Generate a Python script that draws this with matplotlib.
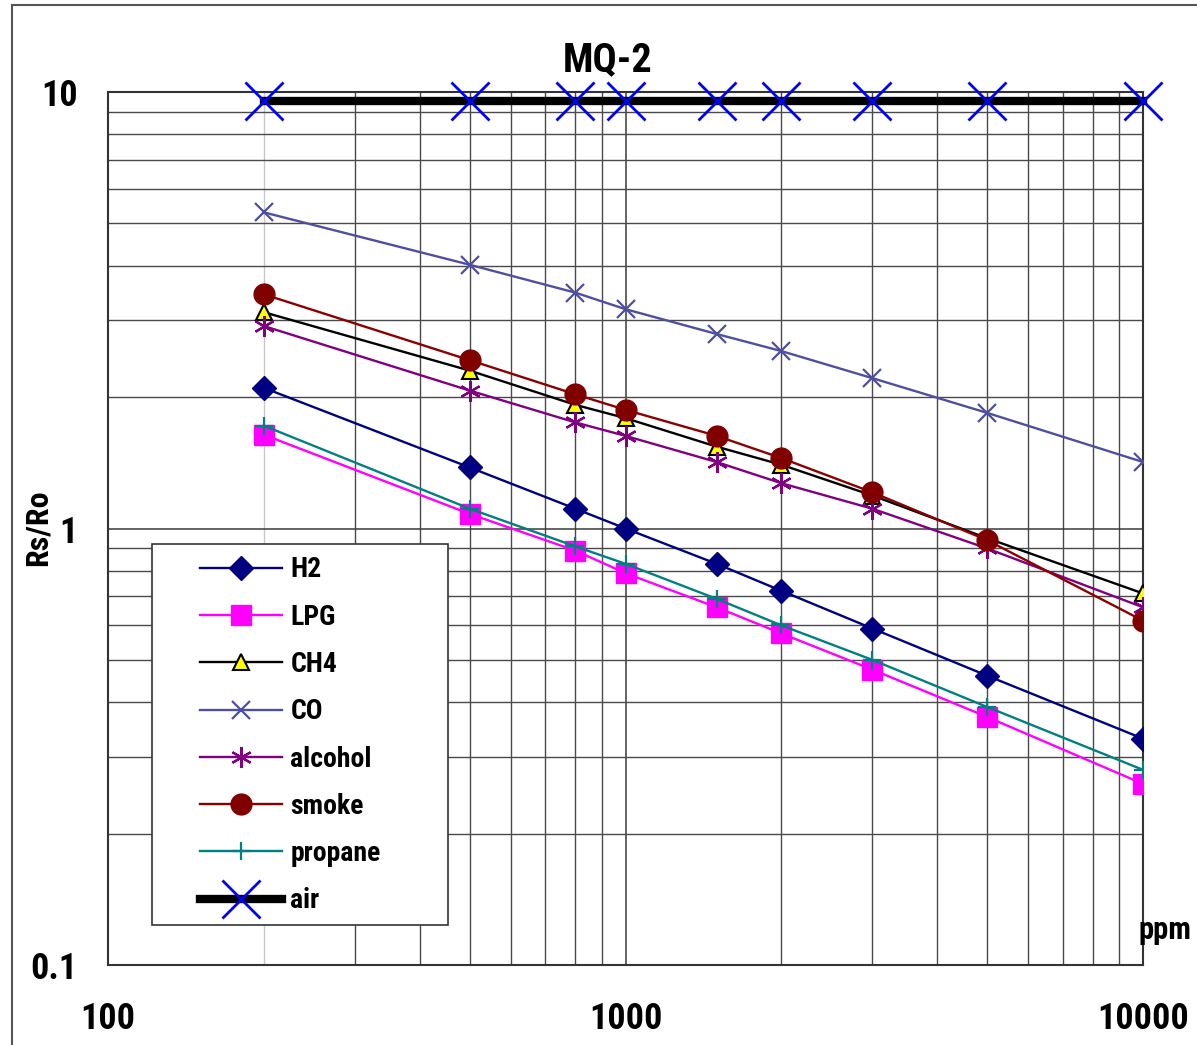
import matplotlib
matplotlib.use("Agg")
import matplotlib.pyplot as plt
from matplotlib.patches import Rectangle
from matplotlib.ticker import NullFormatter, LogLocator

plt.rcParams['font.family'] = ['Roboto Condensed', 'DejaVu Sans']
plt.rcParams['font.weight'] = 900

ppm = [200, 500, 800, 1000, 1500, 2000, 3000, 5000, 10000]

h2 = [2.10, 1.38, 1.11, 1.00, 0.83, 0.72, 0.59, 0.46, 0.33]
lpg = [1.64, 1.08, 0.89, 0.79, 0.66, 0.575, 0.475, 0.37, 0.26]
ch4 = [3.13, 2.30, 1.92, 1.79, 1.54, 1.40, 1.19, 0.95, 0.71]
co = [5.30, 4.02, 3.47, 3.18, 2.79, 2.55, 2.21, 1.84, 1.42]
alcohol = [2.91, 2.07, 1.75, 1.63, 1.42, 1.27, 1.11, 0.90, 0.66]
smoke = [3.44, 2.43, 2.03, 1.87, 1.63, 1.45, 1.21, 0.94, 0.615]
propane = [1.72, 1.11, 0.91, 0.83, 0.69, 0.60, 0.50, 0.39, 0.28]
air = [9.55, 9.55, 9.55, 9.55, 9.55, 9.55, 9.55, 9.55, 9.55]

x_ticks = [100, 1000, 10000]
x_ticklabels = ['100', '1000', '10000']
y_ticks = [0.1, 1, 10]
y_ticklabels = ['0.1', '1', '10']
light_x_grid = [200]

W, H = 1197, 1045
fig = plt.figure(figsize=(W / 100, H / 100), dpi=100)

# outer frame
fig.patches.append(Rectangle((12 / W, -0.1), 1.2, 1 - 5 / H + 0.1,
                             transform=fig.transFigure, fill=False,
                             edgecolor='#555555', linewidth=1.5))

ax = fig.add_axes([108 / W, 1 - 965 / H, (1143 - 108) / W, (965 - 92) / H])
ax.set_xscale('log')
ax.set_yscale('log')
ax.set_xlim(100, 10000)
ax.set_ylim(0.1, 10)

ax.set_xticks(x_ticks)
ax.set_xticklabels(x_ticklabels)
ax.set_yticks(y_ticks)
ax.set_yticklabels(y_ticklabels)
ax.xaxis.set_minor_locator(LogLocator(base=10, subs=range(2, 10)))
ax.yaxis.set_minor_locator(LogLocator(base=10, subs=range(2, 10)))
ax.xaxis.set_minor_formatter(NullFormatter())
ax.yaxis.set_minor_formatter(NullFormatter())
ax.tick_params(which='both', length=0)
ax.tick_params(axis='x', pad=26, labelsize=26)
ax.tick_params(axis='y', pad=22, labelsize=26)
ax.grid(True, which='major', color='#3a3a3a', linewidth=1.1)
ax.grid(True, which='minor', color='#4a4a4a', linewidth=1.0)
ax.set_axisbelow(True)
for s in ax.spines.values():
    s.set_color('#333333')
    s.set_linewidth(1.5)

lw = 1.7
ax.plot(ppm, h2, color='#000080', lw=lw, marker='D', ms=12, mfc='#000080', mec='#000080', label='H2', zorder=3)
ax.plot(ppm, lpg, color='#FF00FF', lw=lw, marker='s', ms=14, mfc='#FF00FF', mec='#FF00FF', label='LPG', zorder=3)
ax.plot(ppm, ch4, color='black', lw=lw, marker='^', ms=12, mfc='#FFFF00', mec='black', mew=1.5, label='CH4', zorder=3)
ax.plot(ppm, co, color='#4F4FA0', lw=lw, marker='x', ms=13, mec='#4F4FA0', mew=1.6, label='CO', zorder=3)
ax.plot(ppm, alcohol, color='#800080', lw=lw, marker=(6, 2, 0), ms=15, mec='#800080', mew=1.6, label='alcohol', zorder=3)
ax.plot(ppm, smoke, color='#8B0000', lw=lw, marker='o', ms=15, mfc='#800000', mec='#800000', label='smoke', zorder=4)
ax.plot(ppm, propane, color='#008080', lw=lw, marker='+', ms=13, mec='#008080', mew=1.6, label='propane', zorder=3)
ax.plot(ppm, air, color='black', lw=6, marker='x', ms=27, mec='#0000FF', mew=2, label='air', zorder=5, clip_on=False)

# legend frame (opaque white box)
ax.add_patch(Rectangle((0.0425, 0.0458), 0.286, 0.437, transform=ax.transAxes,
                       facecolor='white', edgecolor='#333333', linewidth=1.2, zorder=6))
leg = ax.legend(loc='upper left', bbox_to_anchor=(0.0889, 0.468),
                fontsize=20, numpoints=1, handlelength=2.95, handletextpad=0.3,
                labelspacing=0.73, borderpad=0.0, borderaxespad=0.0, frameon=False)
leg.set_zorder(7)

fig.text(608 / W, 1 - 60 / H, 'MQ-2', fontsize=29, ha='center', va='center')
fig.text(38 / W, 1 - 528 / H, 'Rs/Ro', fontsize=23, rotation=90, ha='center', va='center')
fig.text(1138 / W, 1 - 930 / H, 'ppm', fontsize=22, ha='left', va='center')

fig.canvas.draw()
for t in ax.xaxis.get_minor_ticks():
    if any(abs(t.get_loc() - v) < 1e-6 for v in light_x_grid):
        t.gridline.set_color('#c8c8c8')

fig.savefig('out.png', dpi=100)
